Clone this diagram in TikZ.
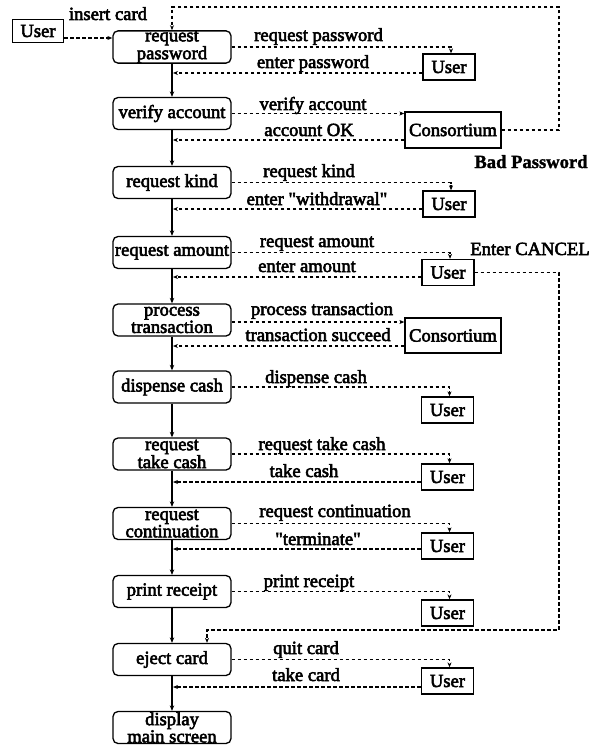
\documentclass[tikz,border=0pt]{standalone}
\usepackage{fontspec}
\setmainfont{Liberation Serif}[Ligatures=TeXOff, FakeBold=3,
  BoldFeatures={FakeBold=1.5}]
\usetikzlibrary{arrows.meta}

\tikzset{
  txt/.style={font=\fontsize{18.6}{15}\selectfont},
  state/.style={txt, draw, line width=1.3pt, rounded corners=5pt,
    minimum width=118pt, minimum height=32pt, inner sep=0pt, align=center},
  actor/.style={txt, draw, line width=1.3pt, minimum width=52pt,
    minimum height=26pt, inner sep=0pt},
  org/.style={txt, draw, line width=1.3pt, minimum width=96pt,
    minimum height=35pt, inner sep=0pt},
  lbl/.style={txt, anchor=base, inner sep=0pt},
  flow/.style={line width=1.4pt, -{Stealth[length=5.5pt,width=4.5pt]}},
  msg/.style={line width=1.1pt, dash pattern=on 3.5pt off 2.5pt,
    -{Stealth[length=5pt,width=4pt]}},
}

\begin{document}
\begin{tikzpicture}[x=1pt, y=-1pt]
\useasboundingbox (0,0) rectangle (596,749);

% main sequence of ATM states
\node[state] (rp) at (172,47)    {request\\password};
\node[state] (va) at (172,113.5) {verify account};
\node[state] (rk) at (172,182.5) {request kind};
\node[state] (ra) at (172,252.5) {request amount};
\node[state] (pt) at (172,320)   {process\\transaction};
\node[state] (dc) at (172,387)   {dispense cash};
\node[state] (rt) at (172,454)   {request\\take cash};
\node[state] (rc) at (172,523.5) {request\\continuation};
\node[state] (pr) at (172,591.5) {print receipt};
\node[state] (ec) at (172,659.5) {eject card};
\node[state] (dm) at (172,727.5) {display\\main screen};

\draw[flow] (rp) -- (va);
\draw[flow] (va) -- (rk);
\draw[flow] (rk) -- (ra);
\draw[flow] (ra) -- (pt);
\draw[flow] (pt) -- (dc);
\draw[flow] (dc) -- (rt);
\draw[flow] (rt) -- (rc);
\draw[flow] (rc) -- (pr);
\draw[flow] (pr) -- (ec);
\draw[flow] (ec) -- (dm);

% external parties
\node[actor, minimum height=23pt, minimum width=51pt] (u0) at (38,31) {User};
\node[actor] (u1) at (449,67)    {User};
\node[org, minimum height=36pt] (c1) at (453,130) {Consortium};
\node[actor] (u2) at (449,204)   {User};
\node[actor] (u3) at (448,272.5) {User};
\node[org] (c2) at (453,335.5)   {Consortium};
\node[actor] (u4) at (447.5,410) {User};
\node[actor] (u5) at (447.5,477) {User};
\node[actor] (u6) at (447.5,546) {User};
\node[actor] (u7) at (447.5,613) {User};
\node[actor] (u8) at (447.5,681) {User};

% card insertion
\draw[msg] ([yshift=-7pt]u0.east) -- ([yshift=-7pt]u0.east -| rp.west);
\node[lbl] (l0) at (108,20) {insert card};

% requests sent out
\draw[msg] (rp.east) -| ([xshift=2pt]u1.north);
\draw[msg] (va.east) -- (va.east -| c1.west);
\draw[msg] (rk.east) -| ([xshift=2pt]u2.north);
\draw[msg] (ra.east) -| ([xshift=2pt]u3.north);
\draw[msg] ([yshift=-2pt]pt.east) -- ([yshift=-2pt]pt.east -| c2.west);
\draw[msg] (dc.east) -| ([xshift=2pt]u4.north);
\draw[msg] (rt.east) -| ([xshift=2pt]u5.north);
\draw[msg] (rc.east) -| ([xshift=2pt]u6.north);
\draw[msg] (pr.east) -| ([xshift=2pt]u7.north);
\draw[msg] (ec.east) -| ([xshift=2pt]u8.north);

% replies joining the main line
\draw[msg, shorten >=1pt] ([yshift=-6pt]u1.west)    -- ([yshift=-6pt]u1.west -| rp.south);
\draw[msg, shorten >=1pt] ([yshift=-10pt]c1.west)   -- ([yshift=-10pt]c1.west -| va.south);
\draw[msg, shorten >=1pt] ([yshift=-5pt]u2.west)    -- ([yshift=-5pt]u2.west -| rk.south);
\draw[msg, shorten >=1pt] ([yshift=-4.5pt]u3.west)  -- ([yshift=-4.5pt]u3.west -| ra.south);
\draw[msg, shorten >=1pt] ([yshift=-10.5pt]c2.west) -- ([yshift=-10.5pt]c2.west -| pt.south);
\draw[msg, shorten >=1pt] ([yshift=-5pt]u5.west)    -- ([yshift=-5pt]u5.west -| rt.south);
\draw[msg, shorten >=1pt] ([yshift=-3pt]u6.west)    -- ([yshift=-3pt]u6.west -| rc.south);
\draw[msg, shorten >=1pt] ([yshift=-6pt]u8.west)    -- ([yshift=-6pt]u8.west -| ec.south);

% message labels
\node[lbl] (l1)  at (318.5,41) {request password};
\node[lbl] (l2)  at (313,68)   {enter password};
\node[lbl] (l3)  at (313,110)  {verify account};
\node[lbl] (l4)  at (309,136)  {account OK};
\node[lbl] (l5)  at (309,177)  {request kind};
\node[lbl] (l6)  at (317,205)  {enter "withdrawal"};
\node[lbl] (l7)  at (317,247)  {request amount};
\node[lbl] (l8)  at (307,272)  {enter amount};
\node[lbl] (l9)  at (322,315)  {process transaction};
\node[lbl] (l10) at (318,341)  {transaction succeed};
\node[lbl] (l11) at (316,383)  {dispense cash};
\node[lbl] (l12) at (322,450)  {request take cash};
\node[lbl] (l13) at (304,477)  {take cash};
\node[lbl] (l14) at (335,517)  {request continuation};
\node[lbl] (l15) at (318,545)  {"terminate"};
\node[lbl] (l16) at (309,587)  {print receipt};
\node[lbl] (l17) at (306,654)  {quit card};
\node[lbl] (l18) at (306,681)  {take card};

% exceptional paths
\coordinate (bp) at (559,7);
\draw[msg] (c1.east) -| (bp) -| (rp.north);
\node[lbl, font=\fontsize{18.6}{15}\selectfont\bfseries] (l19) at (531,168) {Bad Password};

\coordinate (cp) at (559,630);
\draw[msg] (u3.east) -| (cp) -| ([xshift=35pt]ec.north);
\node[lbl] (l20) at (530,255) {Enter CANCEL};
\end{tikzpicture}
\end{document}
